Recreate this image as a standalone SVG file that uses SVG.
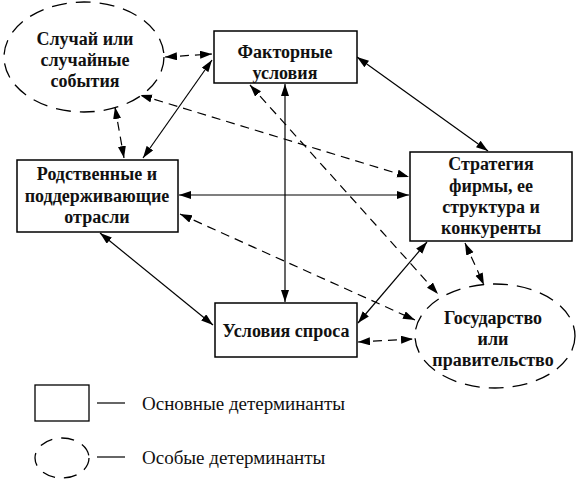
<svg xmlns="http://www.w3.org/2000/svg" width="577" height="489" viewBox="0 0 577 489">
<style>
.box{fill:#fff;stroke:#000;stroke-width:1.5}
.ell{fill:#fff;stroke:#000;stroke-width:1.3;stroke-dasharray:15 9}
text{font-family:'Liberation Serif','DejaVu Serif',serif;font-size:19px;fill:#111}
.t{font-weight:bold;text-anchor:middle;font-size:18px}
.c{fill:none;stroke:#000;stroke-width:1.2;marker-start:url(#ah);marker-end:url(#ah)}
.d{stroke-dasharray:9 6}
</style>
<defs>
<marker id="ah" markerUnits="userSpaceOnUse" markerWidth="13" markerHeight="9" refX="12" refY="4" orient="auto-start-reverse">
<path d="M0,0 L12,4 L0,8 z" fill="#000"/>
</marker>
</defs>
<rect width="577" height="489" fill="#fff"/>
<g id="connectors">
<line class="c d" x1="165" y1="57" x2="212" y2="54"/>
<line class="c d" x1="115" y1="107" x2="124" y2="158"/>
<line class="c" x1="143" y1="158" x2="212" y2="60"/>
<line class="c d" x1="140" y1="95" x2="409" y2="177"/>
<line class="c" x1="357" y1="57" x2="488" y2="151"/>
<line class="c" x1="285" y1="84" x2="285" y2="302"/>
<line class="c d" x1="250" y1="85" x2="438" y2="294"/>
<line class="c" x1="179" y1="195" x2="409" y2="195"/>
<line class="c d" x1="180" y1="214" x2="415" y2="320"/>
<line class="c" x1="100" y1="233" x2="213" y2="325"/>
<line class="c" x1="427" y1="242" x2="358" y2="323"/>
<line class="c d" x1="465" y1="243" x2="484" y2="285"/>
<line class="c d" x1="358" y1="342" x2="413" y2="339"/>
</g>
<g id="sluchai">
<ellipse class="ell" cx="84" cy="57" rx="80" ry="55"/>
<text class="t" x="85" y="45">Случай или</text>
<text class="t" x="85" y="66">случайные</text>
<text class="t" x="85" y="87">события</text>
</g>
<g id="faktornye">
<rect class="box" x="214" y="31" width="143" height="52"/>
<text class="t" x="285" y="58">Факторные</text>
<text class="t" x="285" y="79">условия</text>
</g>
<g id="rodstvennye">
<rect class="box" x="17" y="160" width="161" height="72"/>
<text class="t" x="97" y="180">Родственные и</text>
<text class="t" x="97" y="202">поддерживающие</text>
<text class="t" x="97" y="223">отрасли</text>
</g>
<g id="strategiya">
<rect class="box" x="410" y="152" width="162" height="89"/>
<text class="t" x="491" y="170">Стратегия</text>
<text class="t" x="491" y="192">фирмы, ее</text>
<text class="t" x="491" y="213">структура и</text>
<text class="t" x="491" y="234">конкуренты</text>
</g>
<g id="usloviya-sprosa">
<rect class="box" x="215" y="303" width="142" height="54"/>
<text class="t" x="286" y="337">Условия спроса</text>
</g>
<g id="gosudarstvo">
<ellipse class="ell" cx="495" cy="336" rx="80" ry="52"/>
<text class="t" x="493" y="324">Государство</text>
<text class="t" x="493" y="345">или</text>
<text class="t" x="493" y="366">правительство</text>
</g>
<g id="legend">
<rect class="box" x="35" y="385" width="54" height="36" style="stroke-width:1.3"/>
<line x1="97" y1="403" x2="125" y2="403" stroke="#000" stroke-width="1.2"/>
<text x="142" y="410">Основные детерминанты</text>
<ellipse class="ell" cx="62" cy="458" rx="27" ry="20" style="stroke-dasharray:13 9"/>
<line x1="97" y1="457" x2="125" y2="457" stroke="#000" stroke-width="1.2"/>
<text x="142" y="464">Особые детерминанты</text>
</g>
</svg>
